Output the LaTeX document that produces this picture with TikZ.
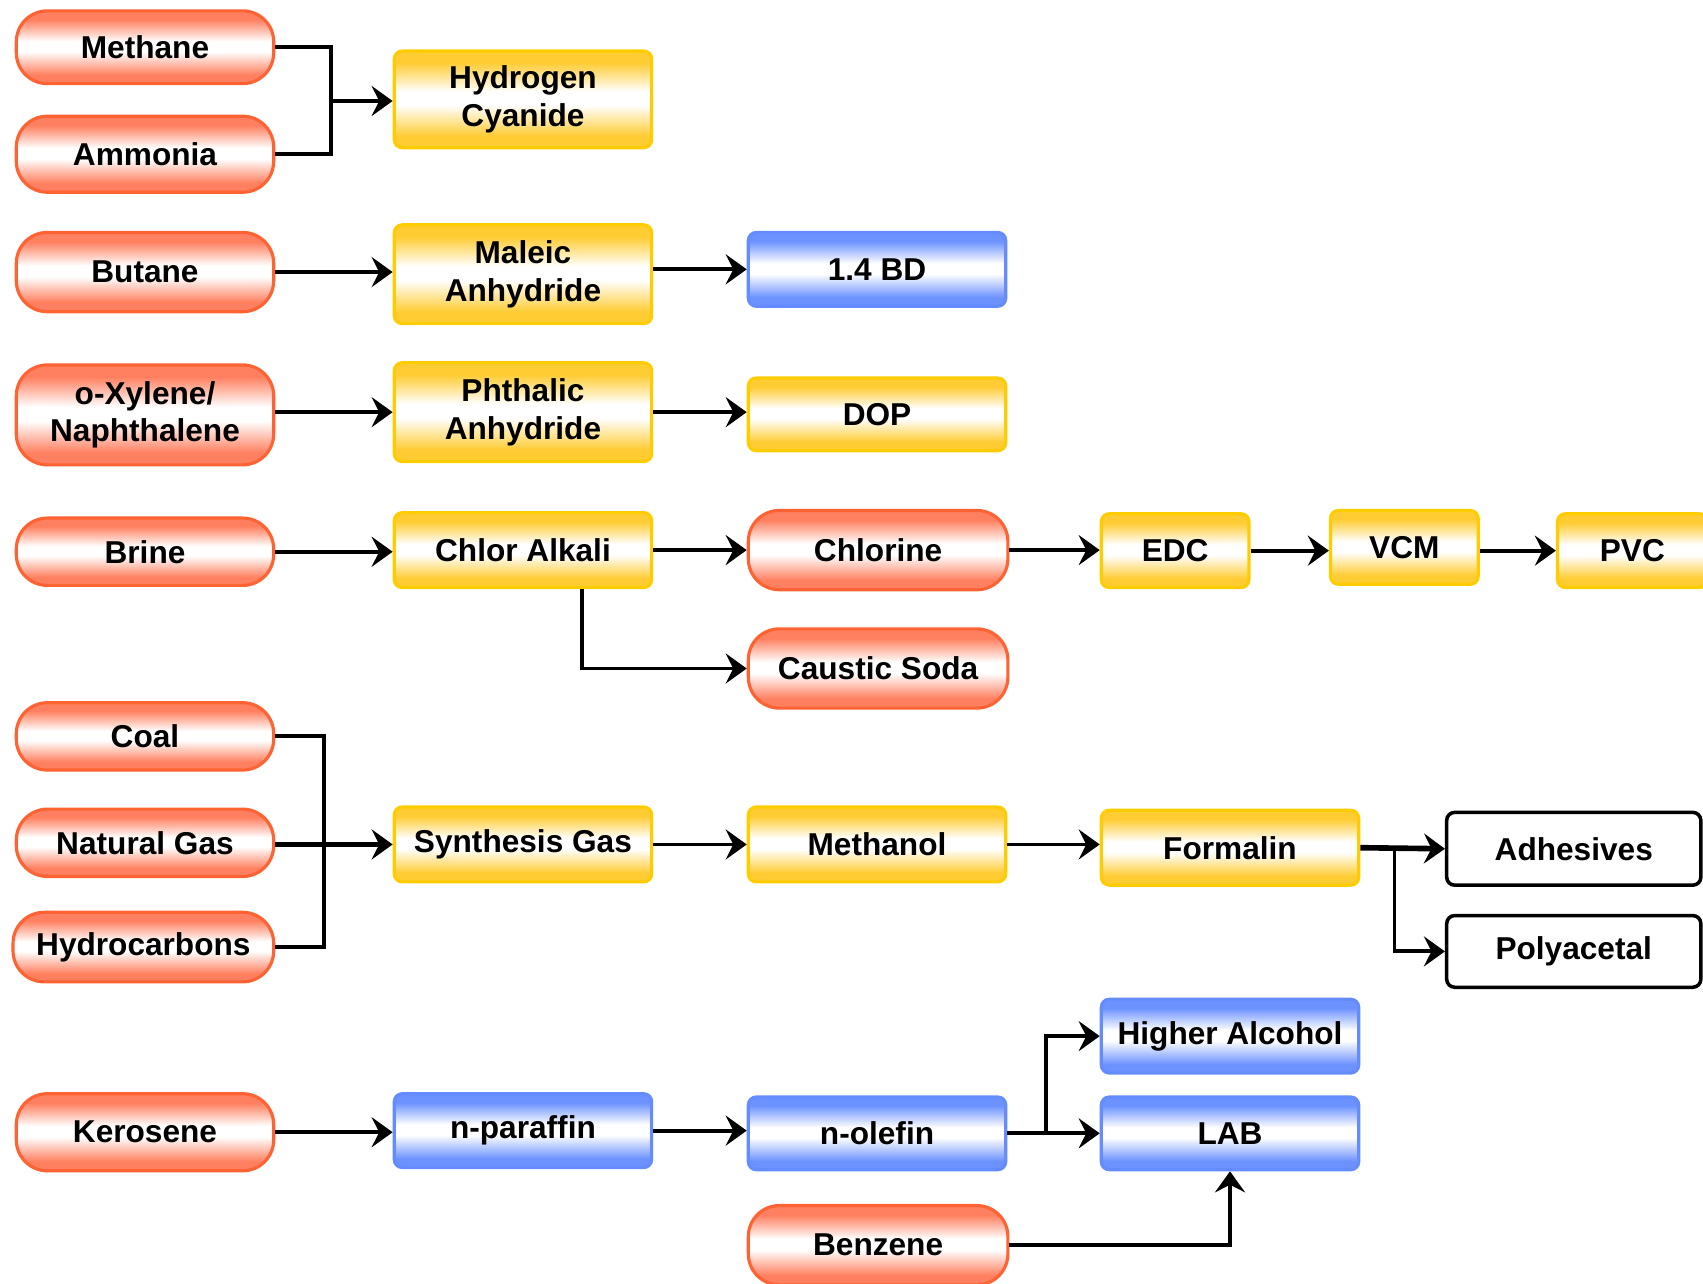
\documentclass[tikz,border=0pt]{standalone}
\usepackage{fontspec}
\setmainfont{Liberation Sans}
\usetikzlibrary{arrows.meta,calc}

\definecolor{pillred}{RGB}{255,99,51}
\definecolor{pillfill}{RGB}{255,128,96}
\definecolor{ybord}{RGB}{255,204,0}
\definecolor{yfill}{RGB}{255,204,51}
\definecolor{bbord}{RGB}{100,140,255}
\definecolor{bfill}{RGB}{108,146,255}

% vertical band shadings: coloured top and bottom, white middle
\pgfdeclareverticalshading{redsh}{100bp}{color(0bp)=(pillfill); color(31bp)=(pillfill); color(47bp)=(white); color(54bp)=(white); color(69bp)=(pillfill); color(100bp)=(pillfill)}
\pgfdeclareverticalshading{yelsh}{100bp}{color(0bp)=(yfill); color(31bp)=(yfill); color(47bp)=(white); color(54bp)=(white); color(69bp)=(yfill); color(100bp)=(yfill)}
\pgfdeclareverticalshading{blush}{100bp}{color(0bp)=(bfill); color(31bp)=(bfill); color(47bp)=(white); color(54bp)=(white); color(69bp)=(bfill); color(100bp)=(bfill)}

\newcommand{\U}{0.021722cm}
% \bx{name}{x1}{y1}{x2}{y2}{style}{text}
\newcommand{\bx}[7]{\node[#6, minimum width={(#4-#2)*\U}, minimum height={(#5-#3)*\U}] (#1) at ({(#2+#4)/2},{(#3+#5)/2}) {#7};}

\tikzset{
  x=0.021722cm, y=-0.021722cm,
  every node/.style={font=\bfseries\fontsize{18}{21.5}\selectfont, align=center, inner sep=0pt},
  pill/.style={draw=pillred, line width=1.8pt, rounded corners=0.62cm, shade, shading=redsh},
  ybox/.style={draw=ybord, line width=1.8pt, rounded corners=0.16cm, shade, shading=yelsh},
  bbox/.style={draw=bbord, line width=1.8pt, rounded corners=0.16cm, shade, shading=blush},
  wbox/.style={draw=black, line width=2pt, rounded corners=0.16cm, fill=white},
  ln/.style={line width=2.2pt},
  arr/.style={line width=2.2pt, -{Stealth[length=0.42cm, width=0.6cm, inset=0.15cm]}},
  thickarr/.style={arr, line width=3.2pt},
}

\begin{document}
\begin{tikzpicture}
\useasboundingbox (0,0) rectangle (1568,1182);

% feedstocks
\bx{methane}{15}{10}{252}{77}{pill}{Methane}
\bx{ammonia}{15}{107}{252}{177}{pill}{Ammonia}
\bx{butane}{15}{214}{252}{287}{pill}{Butane}
\bx{xylene}{15}{336}{252}{428}{pill}{o-Xylene/\\Naphthalene}
\bx{brine}{15}{477}{252}{539}{pill}{Brine}
\bx{coal}{15}{647}{252}{709}{pill}{Coal}
\bx{natgas}{15}{745}{252}{807}{pill}{Natural Gas}
\bx{hydrocarb}{12}{840}{252}{904}{pill}{Hydrocarbons}
\bx{kerosene}{15}{1007}{252}{1078}{pill}{Kerosene}

% first stage products
\bx{hcn}{363}{47}{600}{136}{ybox}{Hydrogen\\Cyanide}
\bx{maleic}{363}{207}{600}{298}{ybox}{Maleic\\Anhydride}
\bx{phthalic}{363}{334}{600}{425}{ybox}{Phthalic\\Anhydride}
\bx{chloralkali}{363}{472}{600}{541}{ybox}{Chlor Alkali}
\bx{syngas}{363}{743}{600}{812}{ybox}{Synthesis Gas}
\bx{nparaffin}{363}{1007}{600}{1075}{bbox}{n-paraffin}

% second stage
\bx{bd}{689}{214}{926}{282}{bbox}{1.4 BD}
\bx{dop}{689}{348}{926}{415}{ybox}{DOP}
\bx{chlorine}{689}{470}{928}{543}{pill}{Chlorine}
\bx{caustic}{689}{579}{928}{652}{pill}{Caustic Soda}
\bx{methanol}{689}{743}{926}{812}{ybox}{Methanol}
\bx{nolefin}{689}{1010}{926}{1077}{bbox}{n-olefin}
\bx{benzene}{689}{1110}{928}{1183}{pill}{Benzene}

% downstream
\bx{edc}{1014}{473}{1150}{541}{ybox}{EDC}
\bx{vcm}{1225}{470}{1361}{538}{ybox}{VCM}
\bx{pvc}{1434}{473}{1572}{541}{ybox}{PVC}
\bx{formalin}{1014}{746}{1251}{815}{ybox}{Formalin}
\bx{higher}{1014}{920}{1251}{988}{bbox}{Higher Alcohol}
\bx{lab}{1014}{1010}{1251}{1077}{bbox}{LAB}
\bx{adhesives}{1332}{748}{1566}{815}{wbox}{Adhesives}
\bx{polyacetal}{1332}{843}{1566}{909}{wbox}{Polyacetal}

% junction points
\coordinate (jh) at (305,93);
\coordinate (js) at (298,777);
\coordinate (jf) at (1284,781);
\coordinate (jo) at (963,1043);

% connectors
\draw[ln] (methane.east) -| (jh);
\draw[ln] (ammonia.east) -| (jh);
\draw[arr] (jh) -- (jh -| hcn.west);

\draw[arr] (butane.east) -- (butane.east -| maleic.west);
\draw[arr] (maleic.east |- bd.west) -- (bd.west);

\draw[arr] (xylene.east |- phthalic.west) -- (phthalic.west);
\draw[arr] (phthalic.east) -- (phthalic.east -| dop.west);

\draw[arr] (brine.east) -- (brine.east -| chloralkali.west);
\draw[arr] (chloralkali.east) -- (chlorine.west);
\draw[arr] ($(chloralkali.south)+(54.5,0)$) |- (caustic.west);
\draw[arr] (chlorine.east) -- (chlorine.east -| edc.west);
\draw[arr] (edc.east) -- (edc.east -| vcm.west);
\draw[arr] (vcm.east |- edc.east) -- (edc.east -| pvc.west);

\draw[ln] (coal.east) -| (js);
\draw[ln] (hydrocarb.east) -| (js);
\draw[thickarr] (natgas.east |- syngas.west) -- (syngas.west);
\draw[arr] (syngas.east) -- (methanol.west);
\draw[arr] (methanol.east) -- (methanol.east -| formalin.west);
\draw[thickarr] (formalin.east) -- (adhesives.west);
\draw[arr] (jf) |- (polyacetal.west);

\draw[arr] (kerosene.east) -- (kerosene.east -| nparaffin.west);
\draw[arr] (nparaffin.east) -- (nparaffin.east -| nolefin.west);
\draw[arr] (nolefin.east) -- (lab.west);
\draw[arr] (jo) |- (higher.west);
\draw[arr] (benzene.east) -| (lab.south);
\end{tikzpicture}
\end{document}
